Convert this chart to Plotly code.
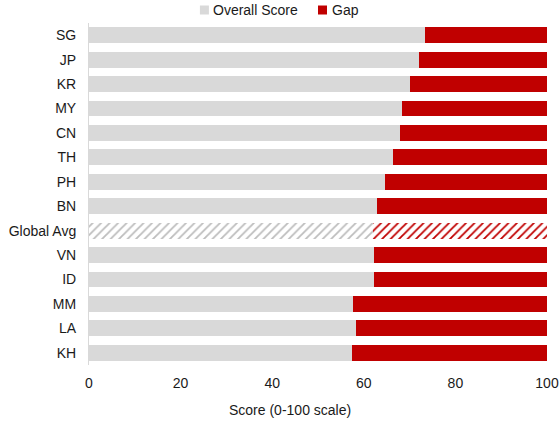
import plotly.graph_objects as go

countries = ["SG", "JP", "KR", "MY", "CN", "TH", "PH", "BN", "Global Avg",
             "VN", "ID", "MM", "LA", "KH"]
overall_score = [73.3, 72.1, 70.0, 68.3, 67.8, 66.3, 64.6, 62.9, 62.1,
                 62.2, 62.2, 57.7, 58.4, 57.4]
gap = [round(100 - s, 1) for s in overall_score]
series_names = ["Overall Score", "Gap"]
x_title = "Score (0-100 scale)"

GREY = "#d9d9d9"
RED = "#c00000"
AVG = "Global Avg"
FONT = "Liberation Sans, Arial, sans-serif"
TEXT = "#1a1a1a"


def bar_marker(color, hatch_color):
    # solid fill for countries, diagonal hatch on white for the global average
    fill = [hatch_color if c == AVG else color for c in countries]
    pattern = dict(
        shape=["/" if c == AVG else "" for c in countries],
        fgcolor=[hatch_color if c == AVG else color for c in countries],
        bgcolor=["white" if c == AVG else color for c in countries],
        size=6, solidity=0.3, fillmode="replace",
    )
    return dict(color=fill, pattern=pattern, line=dict(width=0))


fig = go.Figure()
fig.add_trace(go.Bar(
    y=countries, x=overall_score, orientation="h", name=series_names[0],
    marker=bar_marker(GREY, "#bdbdbd"), width=0.65,
))
fig.add_trace(go.Bar(
    y=countries, x=gap, orientation="h", name=series_names[1],
    marker=bar_marker(RED, RED), width=0.65,
))

# compact legend above the plot: small square swatch followed by its label
legend_items = [(series_names[0], GREY, 0.252, 0.2655),
                (series_names[1], RED, 0.5098, 0.526)]
for name, color, sx, tx in legend_items:
    fig.add_shape(type="rect", xref="paper", yref="paper",
                  xsizemode="pixel", ysizemode="pixel",
                  xanchor=sx, yanchor=1.038, x0=-4.5, x1=4.5, y0=-4.5, y1=4.5,
                  fillcolor=color, line=dict(width=0))
    fig.add_annotation(text=name, xref="paper", yref="paper", x=tx, y=1.038,
                       xanchor="left", yanchor="middle", showarrow=False,
                       font=dict(family=FONT, size=14, color=TEXT))

# x-axis title, centred under the whole chart width
fig.add_annotation(text=x_title, xref="paper", yref="paper", x=0.439, y=-0.131,
                   xanchor="center", yanchor="middle", showarrow=False,
                   font=dict(family=FONT, size=14, color=TEXT))

fig.update_layout(
    barmode="stack",
    width=560, height=423,
    margin=dict(l=89, r=13, t=23, b=58, autoexpand=False),
    paper_bgcolor="white", plot_bgcolor="white",
    font=dict(family=FONT, size=14, color=TEXT),
    showlegend=False,
    xaxis=dict(range=[0, 100], tickvals=[0, 20, 40, 60, 80, 100],
               showgrid=False, zeroline=False, showline=False,
               ticks="", ticklabelstandoff=8, tickfont=dict(size=14)),
    yaxis=dict(categoryorder="array", categoryarray=countries, autorange="reversed",
               showgrid=False, zeroline=False, showline=True, linecolor="#d9d9d9",
               linewidth=1, ticks="", ticklabelstandoff=9, tickfont=dict(size=14)),
)

fig.write_html("out.html")
